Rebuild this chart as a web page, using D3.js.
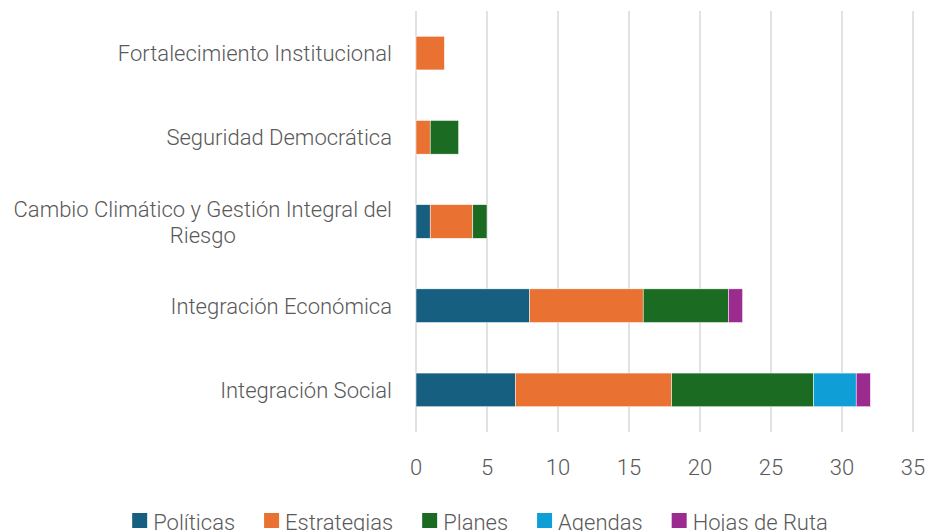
<!DOCTYPE html>
<html>
<head>
<meta charset="utf-8">
<script src="https://cdn.jsdelivr.net/npm/d3@7"></script>
<style>
  body { margin: 0; background: #fff; }
  text { font-family: "Roboto", sans-serif; font-weight: 300; fill: #595959; }
</style>
</head>
<body>
<div id="chart"></div>
<script>
const categories = [
  'Fortalecimiento Institucional',
  'Seguridad Democrática',
  'Cambio Climático y Gestión Integral del Riesgo',
  'Integración Económica',
  'Integración Social'
];
const seriesNames = ['Políticas', 'Estrategias', 'Planes', 'Agendas', 'Hojas de Ruta'];
const politicas   = [0, 0, 1, 8, 7];
const estrategias = [2, 1, 3, 8, 11];
const planes      = [0, 2, 1, 6, 10];
const agendas     = [0, 0, 0, 0, 3];
const hojasDeRuta = [0, 0, 0, 1, 1];
const xTicks = [0, 5, 10, 15, 20, 25, 30, 35];
const colors = ['#175f80', '#e97232', '#1b6b23', '#0f9fd6', '#9b2b8f'];

const width = 928, height = 531;
const margin = { top: 11, right: 15, bottom: 99, left: 416 };
const innerW = 913 - margin.left;
const innerH = 432 - margin.top;

const rows = categories.map((c, i) => ({
  category: c,
  'Políticas': politicas[i],
  'Estrategias': estrategias[i],
  'Planes': planes[i],
  'Agendas': agendas[i],
  'Hojas de Ruta': hojasDeRuta[i]
}));
const stacked = d3.stack().keys(seriesNames)(rows);

const svg = d3.select('#chart').append('svg')
  .attr('width', width)
  .attr('height', height);
const g = svg.append('g')
  .attr('transform', 'translate(' + margin.left + ',' + margin.top + ')');

const x = d3.scaleLinear().domain([0, 35]).range([0, innerW]);
const y = d3.scaleBand().domain(categories).range([0, innerH]).paddingInner(0.6).paddingOuter(0.3);

// gridlines
g.append('g')
  .selectAll('line')
  .data(xTicks)
  .enter()
  .append('line')
    .attr('x1', d => x(d))
    .attr('x2', d => x(d))
    .attr('y1', 0)
    .attr('y2', innerH)
    .style('stroke', '#d9d9d9')
    .style('stroke-width', 1.5);

// x tick labels
g.append('g')
  .selectAll('text')
  .data(xTicks)
  .enter()
  .append('text')
    .attr('x', d => x(d))
    .attr('y', 475 - margin.top)
    .attr('text-anchor', 'middle')
    .style('font-size', '22px')
    .text(d => d);

// bars
g.append('g')
  .selectAll('g')
  .data(stacked)
  .enter()
  .append('g')
    .style('fill', (d, i) => colors[i])
  .selectAll('rect')
  .data(d => d.filter(s => s[1] - s[0] > 0))
  .enter()
  .append('rect')
    .attr('x', d => x(d[0]))
    .attr('y', d => y(d.data.category))
    .attr('width', d => x(d[1]) - x(d[0]))
    .attr('height', y.bandwidth())
    .style('stroke', '#fff')
    .style('stroke-width', 0.5);

// category labels (wrapped, lines centered, block right aligned)
const labelRight = -24;
const lineH = 26;
const wrapped = {
  'Cambio Climático y Gestión Integral del Riesgo': ['Cambio Climático y Gestión Integral del', 'Riesgo']
};
categories.forEach(c => {
  const lines = wrapped[c] || [c];
  const cy = y(c) + y.bandwidth() / 2;
  const t = g.append('text')
    .attr('y', cy + 8 - (lines.length - 1) * lineH / 2)
    .style('font-size', '22px');
  lines.forEach((l, i) => {
    t.append('tspan')
      .attr('dy', i === 0 ? 0 : lineH)
      .text(l);
  });
  let maxW = 0;
  t.selectAll('tspan').each(function() { maxW = Math.max(maxW, this.getComputedTextLength()); });
  t.attr('text-anchor', 'middle');
  t.selectAll('tspan').attr('x', labelRight - maxW / 2);
});

// legend
const legend = svg.append('g').attr('class', 'legend');
let lx = 0;
seriesNames.forEach((name, i) => {
  const item = legend.append('g');
  item.append('rect')
    .attr('x', 0).attr('y', -17)
    .attr('width', 15).attr('height', 15)
    .style('fill', colors[i]);
  const txt = item.append('text')
    .attr('x', 21).attr('y', 0)
    .style('font-size', '22px')
    .text(name);
  const w = 21 + txt.node().getComputedTextLength();
  item.attr('transform', 'translate(' + lx + ',0)');
  lx += w + 29;
});
const legendW = lx - 29;
legend.attr('transform', 'translate(' + (480 - legendW / 2) + ',' + 530 + ')');
</script>
</body>
</html>
